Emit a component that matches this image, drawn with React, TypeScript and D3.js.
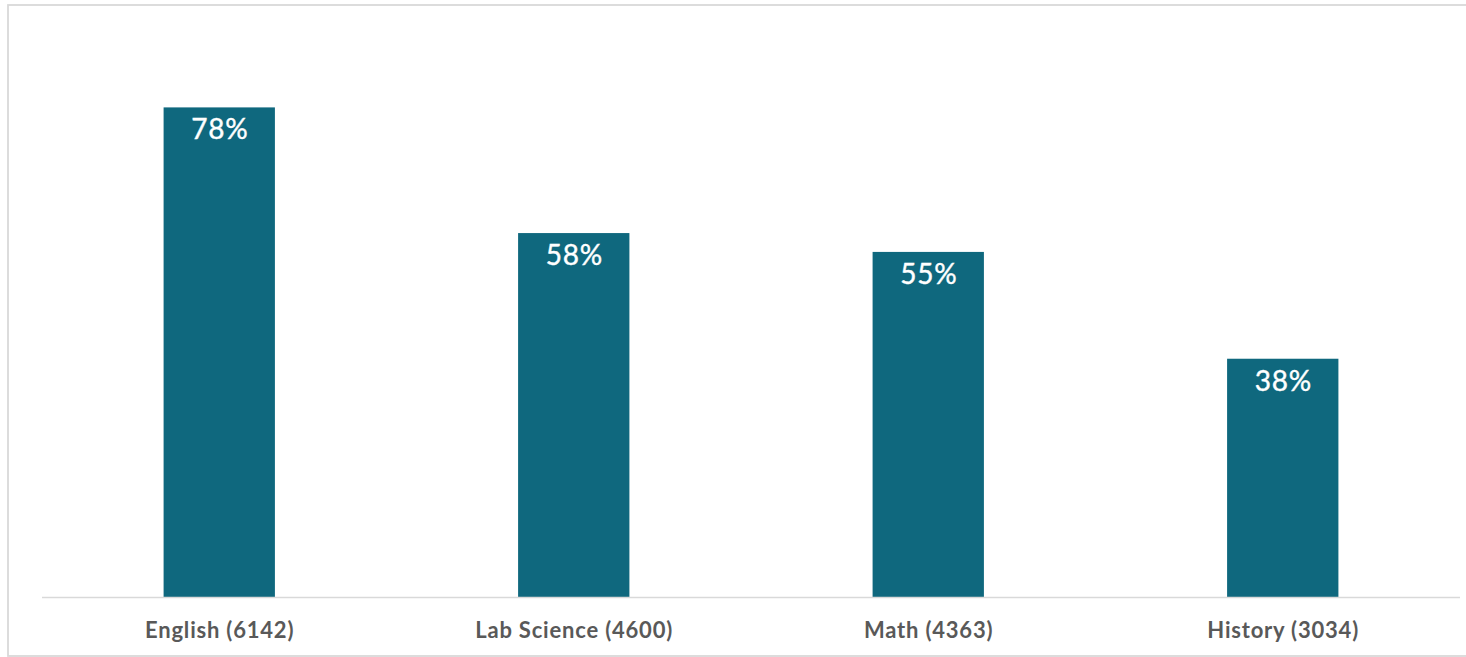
import React from "react";
import * as d3 from "d3";

const categories = ["English (6142)", "Lab Science (4600)", "Math (4363)", "History (3034)"];
const values = [0.78, 0.58, 0.55, 0.38];

const W = 1466;
const H = 657;

export default function App() {
  const x = d3.scaleBand<string>().domain(categories).range([42, 1460]).paddingInner(0.686).paddingOuter(0.343);
  const y = d3.scaleLinear().domain([0, 0.9]).range([597.5, 32]);
  const fmt = d3.format(".0%");
  return (
    <svg width={W} height={H} style={{ position: "absolute", left: 0, top: 0, background: "#fff" }}>
      <rect x={8} y={5} width={1470} height={651} fill="#fff" stroke="#d9d9d9" strokeWidth={1.8} />
      {categories.map((c, i) => (
        <g key={c}>
          <rect x={x(c)} y={y(values[i])} width={x.bandwidth()} height={y(0) - y(values[i])} fill="#0f687e" />
          <text
            x={(x(c) as number) + x.bandwidth() / 2 + 0.6}
            y={y(values[i]) + 32}
            textAnchor="middle"
            fill="#fff"
            fontFamily="Lato"
            fontSize={28}
            letterSpacing={0.8}
            stroke="#fff"
            strokeWidth={0.4}
          >
            {fmt(values[i])}
          </text>
          <text
            x={(x(c) as number) + x.bandwidth() / 2 + 0.4}
            y={638}
            textAnchor="middle"
            fill="#595959"
            fontFamily="Lato"
            fontWeight="bold"
            fontSize={22}
            letterSpacing={0.8}
          >
            {c}
          </text>
        </g>
      ))}
      <line x1={42} x2={1460} y1={y(0)} y2={y(0)} stroke="#d9d9d9" strokeWidth={1.5} />
    </svg>
  );
}
